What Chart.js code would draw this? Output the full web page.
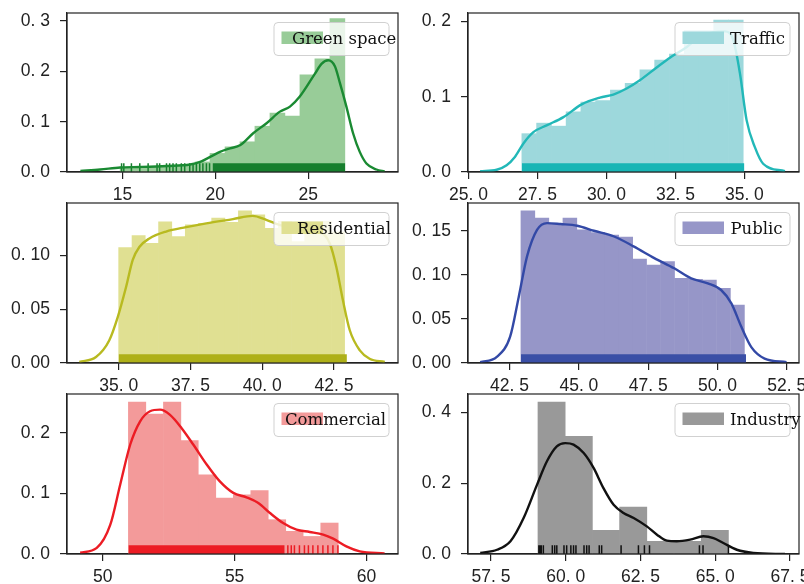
<!DOCTYPE html>
<html>
<head>
<meta charset="utf-8">
<script src="https://cdn.jsdelivr.net/npm/chart.js@4.4.1/dist/chart.umd.min.js"></script>
<style>
  body { margin: 0; background: #fff; }
  #fig { position: relative; width: 804px; height: 584px; overflow: hidden; background: #fff; }
  #fig canvas { position: absolute; }
</style>
</head>
<body>
<div id="fig"></div>
<script>
// ---------- values ----------
// Green space
var greenEdges = [14.87, 15.68, 16.48, 17.29, 18.10, 18.91, 19.71, 20.52, 21.33, 22.13, 22.94, 23.75, 24.56, 25.36, 26.17, 26.98];
var greenHist  = [0.010, 0.008, 0.010, 0.012, 0.015, 0.020, 0.037, 0.050, 0.060, 0.091, 0.117, 0.111, 0.193, 0.225, 0.305];
var greenKdeX  = [12.73, 13.8, 14.88, 15.95, 17.39, 18.64, 19.18, 19.72, 20.25, 20.79, 21.33, 22.04, 22.76, 23.48, 24.02, 24.55, 25.36, 25.72, 26.08, 26.44, 26.71, 27.06, 27.42, 27.78, 28.14, 28.68, 29.12];
var greenKdeY  = [0.002, 0.005, 0.009, 0.010, 0.012, 0.015, 0.020, 0.030, 0.040, 0.047, 0.053, 0.077, 0.097, 0.120, 0.130, 0.150, 0.195, 0.215, 0.222, 0.210, 0.177, 0.130, 0.077, 0.040, 0.017, 0.005, 0.001];
var greenRug   = [14.95, 15.07, 15.48, 15.93, 16.38, 16.86, 17.0, 17.37, 17.54, 17.72, 17.9, 18.17, 18.35, 18.62, 18.8, 18.98, 19.16, 19.33, 19.52, 19.69];
var greenRugBand = [19.85, 27.0];

// Traffic
var trafficEdges = [26.93, 27.47, 28.00, 28.54, 29.07, 29.61, 30.14, 30.68, 31.21, 31.75, 32.28, 32.82, 33.35, 33.89, 34.42, 34.96];
var trafficHist  = [0.051, 0.065, 0.061, 0.080, 0.093, 0.095, 0.109, 0.118, 0.136, 0.149, 0.157, 0.188, 0.188, 0.202, 0.202];
var trafficKdeX  = [25.42, 26.02, 26.38, 26.68, 26.99, 27.35, 27.83, 28.44, 29.10, 29.76, 30.25, 30.73, 31.21, 31.82, 32.30, 32.90, 33.39, 33.87, 34.29, 34.60, 34.84, 35.08, 35.38, 35.68, 36.47];
var trafficKdeY  = [0.001, 0.003, 0.009, 0.020, 0.038, 0.053, 0.062, 0.073, 0.090, 0.099, 0.103, 0.111, 0.122, 0.139, 0.152, 0.166, 0.180, 0.186, 0.187, 0.175, 0.131, 0.069, 0.033, 0.011, 0.001];
var trafficRug   = [];
var trafficRugBand = [26.93, 35.0];

// Residential
var resEdges = [35.00, 35.46, 35.93, 36.39, 36.85, 37.32, 37.78, 38.24, 38.70, 39.17, 39.63, 40.09, 40.56, 41.02, 41.48, 41.94, 42.41, 42.87];
var resHist  = [0.1075, 0.1187, 0.1115, 0.1315, 0.1178, 0.1287, 0.130, 0.1349, 0.131, 0.1417, 0.138, 0.1255, 0.132, 0.113, 0.132, 0.132, 0.122];
var resKdeX  = [33.63, 34.21, 34.67, 34.97, 35.26, 35.49, 35.72, 36.07, 36.65, 37.35, 38.05, 38.98, 39.67, 40.14, 40.60, 41.30, 42.00, 42.35, 42.58, 42.81, 43.05, 43.40, 43.74, 44.27];
var resKdeY  = [0.001, 0.0056, 0.021, 0.043, 0.071, 0.096, 0.108, 0.116, 0.1224, 0.1265, 0.130, 0.134, 0.137, 0.1333, 0.1287, 0.1246, 0.1224, 0.1115, 0.0897, 0.0586, 0.0305, 0.0118, 0.004, 0.001];
var resRug   = [];
var resRugBand = [35.0, 42.95];

// Public
var pubEdges = [42.91, 43.41, 43.92, 44.42, 44.93, 45.43, 45.93, 46.44, 46.94, 47.44, 47.95, 48.45, 48.96, 49.46, 49.96, 50.47, 50.97];
var pubHist  = [0.1727, 0.1644, 0.158, 0.1644, 0.151, 0.148, 0.145, 0.1427, 0.118, 0.111, 0.115, 0.096, 0.095, 0.094, 0.0847, 0.0657];
var pubKdeX  = [41.44, 42.04, 42.52, 42.83, 43.13, 43.49, 43.85, 44.34, 44.94, 45.54, 46.27, 46.99, 47.72, 48.44, 49.05, 49.65, 50.13, 50.50, 50.86, 51.22, 51.70, 52.49];
var pubKdeY  = [0.001, 0.007, 0.030, 0.075, 0.121, 0.151, 0.1587, 0.1576, 0.1557, 0.150, 0.1435, 0.132, 0.119, 0.1074, 0.096, 0.0904, 0.0828, 0.0676, 0.041, 0.018, 0.005, 0.001];
var pubRug   = [];
var pubRugBand = [42.91, 51.03];

// Commercial
var comEdges = [50.97, 51.63, 52.30, 52.96, 53.62, 54.29, 54.95, 55.61, 56.28, 56.94, 57.60, 58.27, 58.93];
var comHist  = [0.2512, 0.2314, 0.2512, 0.1873, 0.131, 0.0926, 0.098, 0.1047, 0.0567, 0.0375, 0.029, 0.0512];
var comKdeX  = [49.14, 49.77, 50.28, 50.66, 51.04, 51.41, 51.79, 52.17, 52.55, 52.99, 53.43, 53.94, 54.44, 54.95, 55.45, 55.90, 56.34, 56.84, 57.35, 57.85, 58.36, 58.74, 59.24, 59.75, 60.69];
var comKdeY  = [0.002, 0.010, 0.048, 0.115, 0.181, 0.219, 0.236, 0.2386, 0.230, 0.208, 0.181, 0.148, 0.120, 0.101, 0.0937, 0.0843, 0.0678, 0.0512, 0.0402, 0.0364, 0.032, 0.0253, 0.0127, 0.0044, 0.001];
var comRug   = [57.02, 57.15, 57.27, 57.46, 57.65, 57.8, 57.97, 58.16, 58.35, 58.54, 58.73, 58.92];
var comRugBand = [50.97, 56.9];

// Industry
var indEdges = [59.07, 59.98, 60.89, 61.80, 62.71, 63.62, 64.53, 65.44];
var indHist  = [0.429, 0.332, 0.0668, 0.1327, 0.0358, 0.0358, 0.0668];
var indKdeX  = [57.14, 57.70, 58.15, 58.59, 59.04, 59.37, 59.70, 59.98, 60.26, 60.60, 60.93, 61.26, 61.60, 61.93, 62.27, 62.71, 63.05, 63.38, 63.71, 64.16, 64.60, 64.94, 65.27, 65.72, 66.27, 67.33];
var indKdeY  = [0.003, 0.012, 0.036, 0.1016, 0.196, 0.262, 0.304, 0.313, 0.309, 0.285, 0.243, 0.186, 0.139, 0.116, 0.1016, 0.078, 0.0546, 0.0376, 0.0358, 0.0405, 0.050, 0.045, 0.031, 0.012, 0.003, 0.0];
var indRug   = [59.10, 59.14, 59.18, 59.25, 59.55, 59.63, 59.70, 59.94, 60.03, 60.17, 60.26, 60.34, 60.61, 60.70, 60.78, 61.12, 61.20, 61.85, 62.43, 62.63, 62.80, 64.47, 64.59, 65.44];
var indRugBand = null;

// tick values
var greenXTicks = [15, 20, 25],               greenYTicks = [0, 0.1, 0.2, 0.3];
var trafficXTicks = [25, 27.5, 30, 32.5, 35], trafficYTicks = [0, 0.1, 0.2];
var resXTicks = [35, 37.5, 40, 42.5],         resYTicks = [0, 0.05, 0.10];
var pubXTicks = [42.5, 45, 47.5, 50, 52.5],   pubYTicks = [0, 0.05, 0.10, 0.15];
var comXTicks = [50, 55, 60],                 comYTicks = [0, 0.1, 0.2];
var indXTicks = [57.5, 60, 62.5, 65, 67.5],   indYTicks = [0, 0.2, 0.4];

// ---------- panels: data + axis ranges + styling ----------
var panels = [
  {label: 'Green space', edges: greenEdges, hist: greenHist, kx: greenKdeX, ky: greenKdeY, rug: greenRug, band: greenRugBand,
   xmin: 12.01, xmax: 29.84, ymax: 0.316, xt: greenXTicks, xd: 0, yt: greenYTicks, yd: 1,
   line: '#1a8a32', bar: '#98cc98', rugc: '#167f2d', dx: 18, col: 0, row: 0},
  {label: 'Traffic', edges: trafficEdges, hist: trafficHist, kx: trafficKdeX, ky: trafficKdeY, rug: trafficRug, band: trafficRugBand,
   xmin: 24.98, xmax: 36.98, ymax: 0.2115, xt: trafficXTicks, xd: 1, yt: trafficYTicks, yd: 1,
   line: '#22b8b8', bar: '#9dd8dc', rugc: '#18b5b5', dx: 55, col: 1, row: 0},
  {label: 'Residential', edges: resEdges, hist: resHist, kx: resKdeX, ky: resKdeY, rug: resRug, band: resRugBand,
   xmin: 33.2, xmax: 44.73, ymax: 0.149, xt: resXTicks, xd: 1, yt: resYTicks, yd: 2,
   line: '#b8ba20', bar: '#e0e092', rugc: '#aeb018', dx: 23, col: 0, row: 1},
  {label: 'Public', edges: pubEdges, hist: pubHist, kx: pubKdeX, ky: pubKdeY, rug: pubRug, band: pubRugBand,
   xmin: 41.0, xmax: 52.94, ymax: 0.1815, xt: pubXTicks, xd: 1, yt: pubYTicks, yd: 2,
   line: '#3349a6', bar: '#9696c8', rugc: '#3a4fa6', dx: 55.5, col: 1, row: 1},
  {label: 'Commercial', edges: comEdges, hist: comHist, kx: comKdeX, ky: comKdeY, rug: comRug, band: comRugBand,
   xmin: 48.64, xmax: 61.2, ymax: 0.2645, xt: comXTicks, xd: 0, yt: comYTicks, yd: 1,
   line: '#ec1c24', bar: '#f39a9a', rugc: '#ec1c24', dx: 11, col: 0, row: 2},
  {label: 'Industry', edges: indEdges, hist: indHist, kx: indKdeX, ky: indKdeY, rug: indRug, band: indRugBand,
   xmin: 56.73, xmax: 67.8, ymax: 0.4518, xt: indXTicks, xd: 1, yt: indYTicks, yd: 1,
   line: '#111111', bar: '#999999', rugc: '#111111', dx: 55, col: 1, row: 2}
];

var colLeft = [0, 401];          // canvas left
var rowTop = [13, 203, 394];     // plot area top on the page
var rowH = [159, 160, 160];
var yAxisW = 67, plotW = 331, padRight = 22, padTop = 24, xAxisH = 34;

Chart.defaults.font.family = '"Liberation Sans", Arial, sans-serif';
Chart.defaults.color = '#222';

function fmt(v, d) { return v.toFixed(d).replace('.', '. '); }

function makeChart(p) {
  var el = document.createElement('canvas');
  var w = yAxisW + plotW + padRight, h = padTop + rowH[p.row] + xAxisH;
  el.width = w; el.height = h;
  el.style.left = colLeft[p.col] + 'px';
  el.style.top = (rowTop[p.row] - padTop) + 'px';
  document.getElementById('fig').appendChild(el);

  var bars = [];
  for (var i = 0; i < p.hist.length; i++) bars.push({x: (p.edges[i] + p.edges[i + 1]) / 2, y: p.hist[i]});
  var kde = [];
  for (var j = 0; j < p.kx.length; j++) kde.push({x: p.kx[j], y: p.ky[j]});
  var rugH = p.ymax * 0.055;
  var rug = [];
  p.rug.forEach(function (v) { rug.push({x: v, y: 0}, {x: v, y: rugH}, {x: v, y: null}); });
  var band = p.band ? [{x: p.band[0], y: rugH}, {x: p.band[1], y: rugH}] : [];

  var frame = {
    id: 'frame',
    afterDraw: function (chart) {
      var a = chart.chartArea, c = chart.ctx;
      c.save();
      c.strokeStyle = '#222'; c.lineWidth = 1.2;
      c.strokeRect(a.left, a.top, a.right - a.left, a.bottom - a.top);
      // legend box, top right
      var bw = 115, bh = 33, bx = a.right - 9 - bw, by = a.top + 9.5;
      c.beginPath();
      c.roundRect(bx, by, bw, bh, 4);
      c.fillStyle = 'rgba(255,255,255,0.8)'; c.fill();
      c.strokeStyle = 'rgba(204,204,204,0.9)'; c.lineWidth = 1; c.stroke();
      c.fillStyle = p.bar;
      c.fillRect(bx + 7.5, by + 9, 41.5, 12.5);
      c.fillStyle = '#111';
      c.font = '16.5px "DejaVu Serif", serif';
      c.textBaseline = 'alphabetic';
      c.fillText(p.label, bx + p.dx, by + 21);
      c.restore();
    }
  };

  var axisCommon = function (ticks, dec, pad) {
    return {
      type: 'linear',
      offset: false,
      afterBuildTicks: function (s) { s.ticks = ticks.map(function (v) { return {value: v}; }); },
      ticks: {
        callback: function (v) { return fmt(v, dec); },
        font: {size: 17.5}, color: '#222', padding: pad, autoSkip: false, maxRotation: 0
      },
      grid: {display: true, offset: false, drawOnChartArea: false, drawTicks: true, tickLength: 7,
             tickColor: '#222', lineWidth: 1.2},
      border: {display: true, color: '#222', width: 1.2}
    };
  };
  var xs = axisCommon(p.xt, p.xd, 5.5);
  xs.min = p.xmin; xs.max = p.xmax;
  xs.afterFit = function (s) { s.height = xAxisH; };
  var ys = axisCommon(p.yt, p.yd, 10);
  ys.min = 0; ys.max = p.ymax;
  ys.afterFit = function (s) { s.width = yAxisW; };

  new Chart(el, {
    type: 'bar',
    data: {
      datasets: [
        {type: 'line', data: kde, borderColor: p.line, borderWidth: 2.4, pointRadius: 0,
         cubicInterpolationMode: 'monotone', fill: false, clip: 0, order: 0},
        {type: 'line', data: rug, borderColor: p.rugc, borderWidth: 1.5, pointRadius: 0, spanGaps: false, clip: 0, order: 1},
        {type: 'line', data: band, borderWidth: 0, borderColor: 'rgba(0,0,0,0)', backgroundColor: p.rugc,
         fill: 'origin', pointRadius: 0, clip: 0, order: 1},
        {type: 'bar', label: p.label, data: bars, backgroundColor: p.bar, borderWidth: 0,
         barPercentage: 1, categoryPercentage: 1, order: 2}
      ]
    },
    options: {
      responsive: false,
      animation: false,
      devicePixelRatio: 1,
      layout: {padding: {left: 0, top: padTop, right: padRight, bottom: 0}},
      scales: {x: xs, y: ys},
      plugins: {legend: {display: false}, tooltip: {enabled: false}}
    },
    plugins: [frame]
  });
}

panels.forEach(makeChart);
</script>
</body>
</html>
